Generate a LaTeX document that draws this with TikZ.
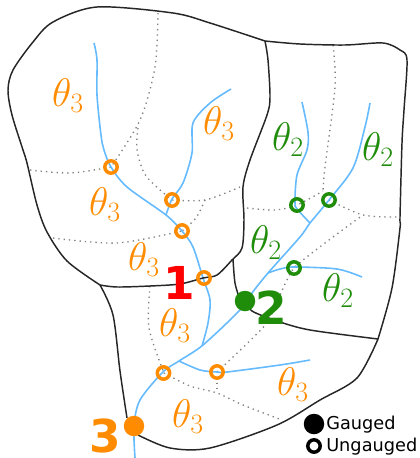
\documentclass[tikz,border=0pt]{standalone}
\usepackage{fix-cm}
\usepackage{fontspec}
\newfontfamily\dvf{DejaVu Sans}
\definecolor{river}{HTML}{66BBFF}
\definecolor{oran}{HTML}{FF8C00}
\definecolor{gren}{HTML}{1F8C0A}
\tikzset{
  outline/.style={draw=black!85,line width=1.1pt,line join=round},
  riverline/.style={draw=river,line width=1.2pt},
  ridge/.style={draw=black!50,line width=1pt,dash pattern=on 1pt off 3pt},
  ungauged/.style={circle,draw=#1,line width=2.6pt,minimum size=12.4*.75pt,inner sep=0pt},
  gauged/.style={circle,fill=#1,minimum size=20.5*.75pt,inner sep=0pt},
  theta/.style={text=#1,inner sep=0pt,font=\fontsize{30}{34}\selectfont},
  bignum/.style={text=#1,inner sep=0pt,font=\dvf\bfseries\fontsize{34}{38}\selectfont},
  legendtext/.style={anchor=west,inner sep=0pt,text=black,font=\dvf\fontsize{13.3}{16}\selectfont}
}
\begin{document}
\begin{tikzpicture}[x=.75pt,y=-.75pt]
\useasboundingbox (0,0) rectangle (419,458);
% ridge lines
\draw[ridge] plot[smooth,tension=.5] coordinates {(158,13)(155,67)(140,120)(111,167)};
\draw[ridge] plot[smooth,tension=.5] coordinates {(138,128)(137,150)(146,176)(172,200)};
\draw[ridge] plot[smooth,tension=.5] coordinates {(30,170)(70,173)(111,167)};
\draw[ridge] plot[smooth,tension=.5] coordinates {(172,200)(205,200)(240,187)};
\draw[ridge] plot[smooth,tension=.5] coordinates {(205,200)(196,218)(182,231)};
\draw[ridge] plot[smooth,tension=.5] coordinates {(53,238)(117,243)(182,231)};
\draw[ridge] plot[smooth,tension=.5] coordinates {(150,286)(149,328)(164,373)};
\draw[ridge] plot[smooth,tension=.5] coordinates {(164,373)(190,386)(217,393)(243,405)(282,420)};
\draw[ridge] (217,372) -- (217,393);
\draw[ridge] plot[smooth,tension=.3] coordinates {(217,372)(267,323)(294,268)(363,215)};
\draw[ridge] plot[smooth,tension=.5] coordinates {(329,200)(363,215)(397,217)};
\draw[ridge] plot[smooth,tension=.5] coordinates {(247,208)(275,210)(297,205)(323,191)};
\draw[ridge] plot[smooth,tension=.5] coordinates {(333,45)(335,87)(325,167)(323,191)};
% rivers
\draw[riverline] plot[smooth,tension=.5] coordinates {(94,43)(97,60)(97,95)(101,135)(104,150)(111,167)(127,187)(166,215)(182,231)(193,247)(203,278)(210,300)(208,323)(202,346)};
\draw[riverline] plot[smooth,tension=.5] coordinates {(370,103)(365,127)(353,168)(329,200)(310,223)(300,237)(268,273)(252,293)(240,310)(203,345)(179,361)(163,372)(140,400)(134,426)(135,458)};
\draw[riverline] plot[smooth,tension=.5] coordinates {(231,89)(210,103)(193,123)(192,153)(183,183)(172,199)(166,215)};
\draw[riverline] plot[smooth,tension=.5] coordinates {(302,102)(308,132)(307,150)(297,175)(295,203)(298,210)(310,223)};
\draw[riverline] plot[smooth,tension=.5] coordinates {(268,273)(280,269)(294,267)(337,269)(362,277)};
\draw[riverline] plot[smooth,tension=.5] coordinates {(179,361)(200,370)(217,372)(227,372)(280,365)(310,360)};
% basin outlines
\draw[outline] plot[smooth,tension=.5] coordinates {(265,41)(210,23)(173,13)(97,7)(53,22)(33,42)(13,70)(8,90)(12,115)(23,150)(27,163)(37,205)(47,232)(67,261)(100,285)};
\draw[outline] plot[smooth,tension=.5] coordinates {(100,285)(117,287)(150,286)(180,284)(203,278)(217,275)(232,260)(242,248)(244,220)(243,187)(250,160)(267,115)(270,97)(268,60)(265,41)};
\draw[outline] plot[smooth,tension=.5] coordinates {(265,41)(300,44)(345,45)(383,43)(400,50)(407,60)(404,110)(402,143)(400,217)(400,228)(392,288)(378,339)};
\draw[outline] plot[smooth,tension=.5] coordinates {(378,339)(357,378)(320,400)(277,425)(210,448)(170,448)(138,435)};
\draw[outline] plot[smooth,tension=.5] coordinates {(100,285)(113,315)(120,371)(127,418)};
\draw[outline] plot[smooth,tension=.5] coordinates {(233,259)(235,283)(240,300)};
\draw[outline] plot[smooth,tension=.5] coordinates {(245,301)(252,311)(277,321)(310,330)(378,339)};
% stations
\node[ungauged=oran] (u1) at (111,167) {};
\node[ungauged=oran] (u2) at (172,200) {};
\node[ungauged=oran] (u3) at (182,231) {};
\node[ungauged=oran] (u4) at (204,278) {};
\node[ungauged=oran] (u5) at (163.5,373) {};
\node[ungauged=oran] (u6) at (217,372) {};
\node[ungauged=gren] (g1) at (297,205) {};
\node[ungauged=gren] (g2) at (329,200) {};
\node[ungauged=gren] (g3) at (294,268) {};
\node[gauged=gren] (s2) at (245,301) {};
\node[gauged=oran] (s3) at (134,426) {};
% labels
\node[theta=oran] (t1) at (68,96) {$\theta_3$};
\node[theta=oran] (t2) at (105,205) {$\theta_3$};
\node[theta=oran] (t3) at (219,124) {$\theta_3$};
\node[theta=oran] (t4) at (144,260) {$\theta_3$};
\node[theta=oran] (t5) at (175,326) {$\theta_3$};
\node[theta=oran] (t6) at (188,417) {$\theta_3$};
\node[theta=oran] (t7) at (293,385) {$\theta_3$};
\node[theta=gren] (t8) at (288,140) {$\theta_2$};
\node[theta=gren] (t9) at (378,150) {$\theta_2$};
\node[theta=gren] (t10) at (266,243) {$\theta_2$};
\node[theta=gren] (t11) at (338,291) {$\theta_2$};
\node[bignum=red] (n1) at (179,283) {1};
\node[bignum=gren] (n2) at (271,308) {2};
\node[bignum=oran] (n3) at (105,436) {3};
% legend
\node[gauged=black] (lg) at (314,424) {};
\node[circle,draw=black,line width=2.6pt,minimum size=12.4*.75pt,inner sep=0pt,fill=white] (lu) at (314,446) {};
\node[legendtext] (lgt) at (326,425) {Gauged};
\node[legendtext] (lut) at (326,447) {Ungauged};
\end{tikzpicture}
\end{document}
